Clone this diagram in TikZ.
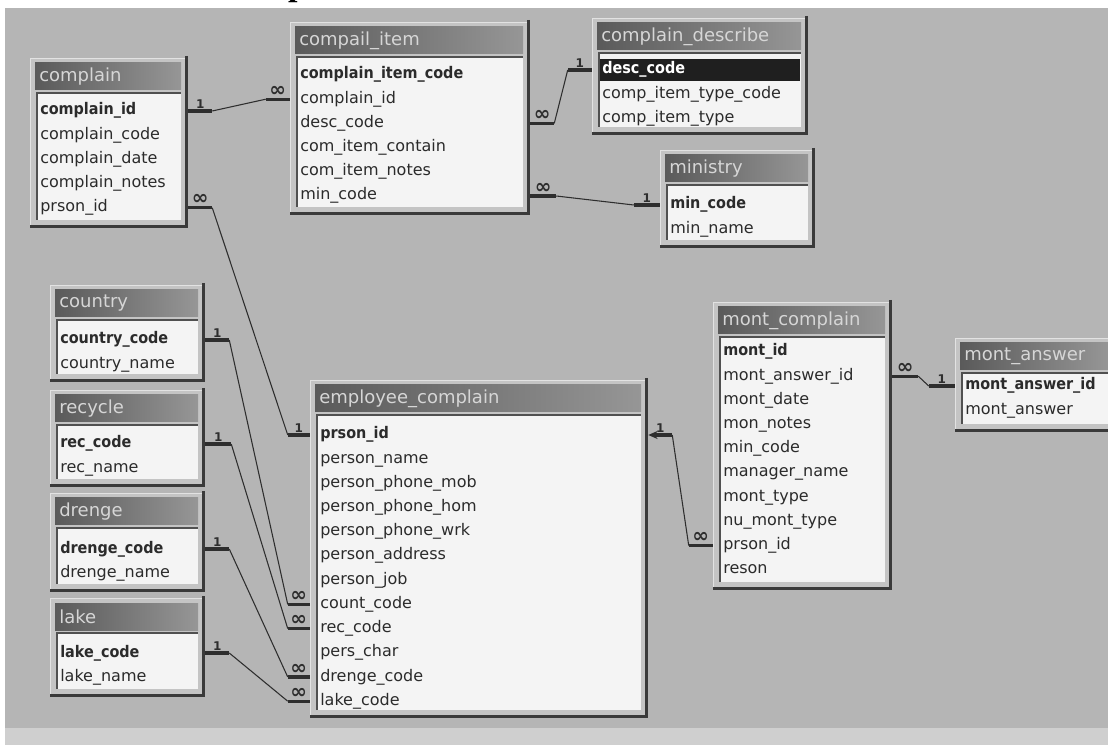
\documentclass[tikz,border=0pt]{standalone}
\usepackage{fontspec}
\setmainfont{DejaVu Sans}
\newfontfamily\keyfont{DejaVu Sans Condensed}
\newfontfamily\titlefont{Liberation Serif}
\usetikzlibrary{calc,fit,arrows.meta}
\definecolor{bg}{HTML}{B5B5B5}
\definecolor{bandc}{HTML}{CFCFCF}
\definecolor{framebg}{HTML}{C4C4C4}
\definecolor{framehi}{HTML}{E2E2E2}
\definecolor{bodybg}{HTML}{F4F4F4}
\definecolor{bodyedge}{HTML}{505050}
\definecolor{hdark}{HTML}{5A5A5A}
\definecolor{hlight}{HTML}{969696}
\definecolor{htext}{HTML}{D6D6D6}
\definecolor{ftext}{HTML}{2B2B2B}
\definecolor{shadowc}{HTML}{3A3A3A}
\definecolor{linec}{HTML}{2E2E2E}

\newcommand{\infsym}{{\fontsize{15}{15}\selectfont ∞}}

% #1 id, #2 title, #3 x1, #4 y1, #5 x2, #6 y2, #7 fields, #8 first-row style prefix, #9 first-row offset
\newcommand{\ertable}[9]{%
  \fill[framebg] (#3,#4) rectangle (#5,#6);
  \draw[framehi, line width=1pt] (#3+0.5,#6) -- (#3+0.5,#4+0.5) -- (#5,#4+0.5);
  \shade[left color=hdark, right color=hlight] (#3+5,#4+5) rectangle (#5-7,#4+32);
  \node[headtext] (#1-title) at (#3+9,#4+18.5) {#2};
  \fill[bodybg] (#3+7,#4+35) rectangle (#5-7,#6-8);
  \draw[bodyedge, line width=1.2pt] (#3+7,#6-8) -- (#3+7,#4+35) -- (#5-7,#4+35);
  \path[#8bar] (#3+8,{#4+#9-11}) rectangle (#5-8,{#4+#9+11});
  \foreach \f [count=\i] in {#7} {
    \ifnum\i=1
      \node[#8row] (#1-\f) at (#3+10,{#4+#9}) {\f};
    \else
      \node[fieldtext] (#1-\f) at (#3+10,{#4+#9+24.2*(\i-1)}) {\f};
    \fi
  }
  \draw[shadowc, line width=2.2pt] (#5-1.5,#4-2) -- (#5-1.5,#6-1.5) -- (#3,#6-1.5);
  \node[fit={(#3,#4) (#5,#6)}, inner sep=0pt] (#1) {};
}

% #1 start point, #2 dx, #3 label, #4 end point, #5 dx, #6 label
\newcommand{\relate}[6]{%
  \draw[stub] (#1) -- node[card] {#3} ++(#2,0) coordinate (ra);
  \draw[stub] (#4) -- node[card] {#6} ++(#5,0) coordinate (rb);
  \draw[thinrel] (ra) -- (rb);
}

\begin{document}
\catcode`\_=12
\begin{tikzpicture}[x=0.75pt,y=-0.75pt,
  headtext/.style={anchor=west, text=htext, font=\fontsize{13.5}{15}\selectfont, inner sep=0pt},
  fieldtext/.style={anchor=west, text=ftext, font=\fontsize{12}{14}\selectfont, inner sep=0pt, text height=8.5pt, text depth=2.5pt},
  keyrow/.style={fieldtext, font=\keyfont\bfseries\fontsize{12}{14}\selectfont},
  selrow/.style={keyrow, text=white},
  keybar/.style={},
  selbar/.style={fill=black!88},
  stub/.style={draw=linec, line width=2.3pt},
  thinrel/.style={draw=linec, line width=0.8pt},
  card/.style={above=0.5pt, text=linec, inner sep=0.5pt, font=\bfseries\fontsize{9}{9}\selectfont},
  titletext/.style={anchor=base west, inner sep=0pt, font=\titlefont\bfseries\fontsize{25.5}{28}\selectfont}
]
\useasboundingbox (0,0) rectangle (1108,745);
\clip (0,0) rectangle (1108,745);
\fill[white] (0,0) rectangle (1108,745);
\node[titletext] (title) at (35,-4) {Table Relationships};
\fill[bg] (5,8) rectangle (1108,728);
\fill[bandc] (5,728) rectangle (1108,745);

\ertable{complain}{complain}{30}{58}{188}{228}{complain_id,complain_code,complain_date,complain_notes,prson_id}{key}{53}
\ertable{compail}{compail_item}{290}{22}{530}{215}{complain_item_code,complain_id,desc_code,com_item_contain,com_item_notes,min_code}{key}{53}
\ertable{describe}{complain_describe}{592}{18}{808}{135}{desc_code,comp_item_type_code,comp_item_type}{sel}{52}
\ertable{ministry}{ministry}{660}{150}{815}{248}{min_code,min_name}{key}{55}
\ertable{country}{country}{50}{285}{205}{382}{country_code,country_name}{key}{55}
\ertable{recycle}{recycle}{50}{390}{205}{487}{rec_code,rec_name}{key}{54}
\ertable{drenge}{drenge}{50}{493}{205}{592}{drenge_code,drenge_name}{key}{56}
\ertable{lake}{lake}{50}{598}{205}{697}{lake_code,lake_name}{key}{55}
\ertable{employee}{employee_complain}{310}{380}{648}{718}{prson_id,person_name,person_phone_mob,person_phone_hom,person_phone_wrk,person_address,person_job,count_code,rec_code,pers_char,drenge_code,lake_code}{key}{55}
\ertable{mont}{mont_complain}{713}{302}{892}{590}{mont_id,mont_answer_id,mont_date,mon_notes,min_code,manager_name,mont_type,nu_mont_type,prson_id,reson}{key}{50}
\ertable{answer}{mont_answer}{955}{338}{1116}{432}{mont_answer_id,mont_answer}{key}{48}

\relate{complain.east |- complain-complain_id}{24}{1}{compail.west |- compail-complain_id}{-24}{\infsym}
\relate{compail.east |- compail-desc_code}{24}{\infsym}{describe.west |- describe-desc_code}{-24}{1}
\relate{compail.east |- compail-min_code}{26}{\infsym}{ministry.west |- ministry-min_code}{-26}{1}
\relate{complain.east |- complain-prson_id}{24}{\infsym}{employee.west |- employee-prson_id}{-22}{1}
\relate{country.east |- country-country_code}{24}{1}{employee.west |- employee-count_code}{-22}{\infsym}
\relate{recycle.east |- recycle-rec_code}{26}{1}{employee.west |- employee-rec_code}{-22}{\infsym}
\relate{drenge.east |- drenge-drenge_code}{24}{1}{employee.west |- employee-drenge_code}{-22}{\infsym}
\relate{lake.east |- lake-lake_code}{24}{1}{employee.west |- employee-lake_code}{-22}{\infsym}
\relate{mont.east |- mont-mont_answer_id}{26}{\infsym}{answer.west |- answer-mont_answer_id}{-26}{1}

\draw[stub] (mont.west |- mont-prson_id) -- node[card] {\infsym} ++(-24,0) coordinate (ma);
\draw[stub, {Stealth[length=7pt,width=6pt]}-] (employee.east |- employee-prson_id) -- node[card] {1} ++(24,0) coordinate (mb);
\draw[thinrel] (mb) -- (ma);
\end{tikzpicture}
\end{document}
